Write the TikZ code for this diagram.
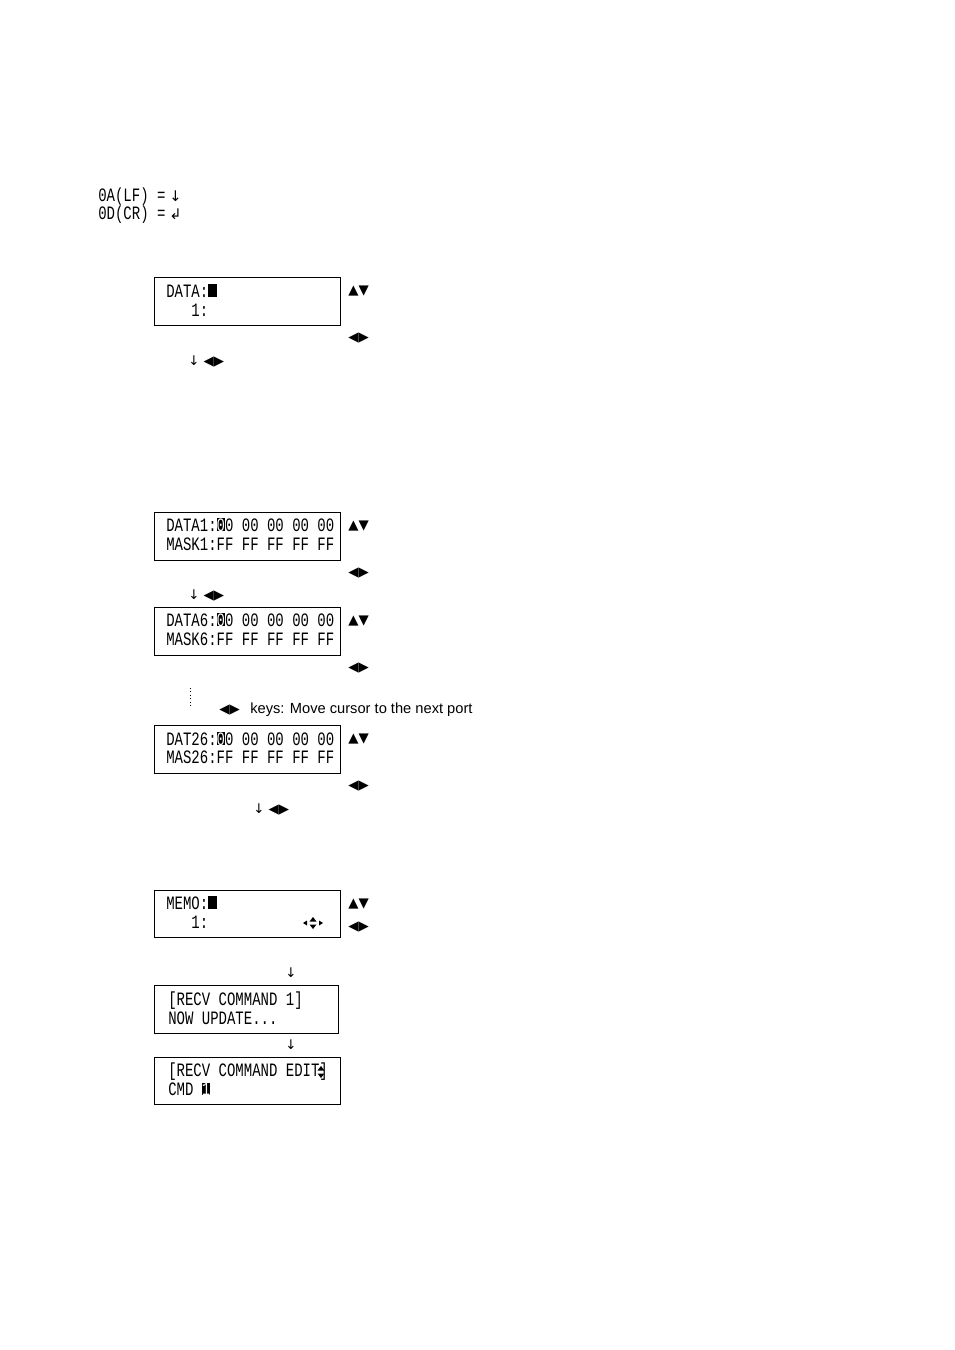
\documentclass[tikz,border=0pt]{standalone}
\usepackage{fontspec}
\usepackage{graphicx}
\setmainfont{Liberation Sans}
\newfontfamily\mono{Liberation Mono}
\newfontfamily\dv{DejaVu Sans}
\newcommand{\lcd}[1]{\scalebox{1}[1.35]{\mono\fontsize{10.5}{12}\selectfont #1}}
\newcommand{\inv}[1]{{\setlength{\fboxsep}{0pt}\colorbox{black}{\textcolor{white}{#1}}}}
\begin{document}
\begin{tikzpicture}[x=0.75pt,y=-0.75pt,
  lcdbox/.style={draw,line width=0.7pt},
  lt/.style={anchor=base west,inner sep=0pt,font=\mono},
  sym/.style={anchor=base west,inner sep=0pt,font=\dv\fontsize{10}{12}\selectfont},
  txt/.style={anchor=base west,inner sep=0pt,font=\fontsize{11}{13}\selectfont}]
\useasboundingbox (0,0) rectangle (954,1350);
% legend
\node[lt] (l1) at (98,201) {\lcd{0A(LF) = }};
\node[sym,font=\dv\fontsize{11}{13}\selectfont] (l1a) at (169,201) {↓};
\node[lt] (l2) at (98,219) {\lcd{0D(CR) = }};
\node[sym,font=\dv\fontsize{11}{13}\selectfont] (l2a) at (169,219) {↲};
% helper macro for arrows
\newcommand{\ud}[3]{\node[sym] (#1) at (#2,#3) {▲▼};}
\newcommand{\lr}[3]{\node[sym] (#1) at (#2,#3) {◀▶};}
% box1
\draw[lcdbox] (154,277) rectangle (340,325);
\node[lt] (b1a) at (166,297) {\lcd{DATA:\inv{\phantom{0}}}};
\node[lt] (b1b) at (166,316) {\lcd{\ \ \ 1:}};
\ud{u1}{348}{294}\lr{r1}{348}{341}
\node[sym] (d1) at (188,365) {↓ ◀▶};
% box2
\draw[lcdbox] (154,512) rectangle (340,560);
\node[lt] (b2a) at (166,531) {\lcd{DATA1:\inv{0}0 00 00 00 00}};
\node[lt] (b2b) at (166,550) {\lcd{MASK1:FF FF FF FF FF}};
\ud{u2}{348}{529}\lr{r2}{348}{576}
\node[sym] (d2) at (188,599) {↓ ◀▶};
% box3
\draw[lcdbox] (154,607) rectangle (340,655);
\node[lt] (b3a) at (166,626) {\lcd{DATA6:\inv{0}0 00 00 00 00}};
\node[lt] (b3b) at (166,645) {\lcd{MASK6:FF FF FF FF FF}};
\ud{u3}{348}{624}\lr{r3}{348}{671}
\draw[dotted,line width=0.6pt] (190,688) -- (190,706);
\node[sym] (k) at (219,713) {◀▶};
\node[txt] (kt) at (250,713) {keys: Move cursor to the next port};
% box4
\draw[lcdbox] (154,725) rectangle (340,773);
\node[lt] (b4a) at (166,745) {\lcd{DAT26:\inv{0}0 00 00 00 00}};
\node[lt] (b4b) at (166,763) {\lcd{MAS26:FF FF FF FF FF}};
\ud{u4}{348}{742}\lr{r4}{348}{789}
\node[sym] (d4) at (253,813) {↓ ◀▶};
% box5
\draw[lcdbox] (154,890) rectangle (340,937);
\node[lt] (b5a) at (166,909) {\lcd{MEMO:\inv{\phantom{0}}}};
\node[lt] (b5b) at (166,928) {\lcd{\ \ \ 1:}};
\fill (303,923) -- (307,920.5) -- (307,925.5) -- cycle;
\fill (323,923) -- (319,920.5) -- (319,925.5) -- cycle;
\fill (313,917) -- (309.5,921.5) -- (316.5,921.5) -- cycle;
\fill (313,929) -- (309.5,924.5) -- (316.5,924.5) -- cycle;
\ud{u5}{348}{907}\lr{r5}{348}{930}
\node[sym] (d5) at (285,977) {↓};
% box6
\draw[lcdbox] (154,985) rectangle (338,1033);
\node[lt] (b6a) at (168,1005) {\lcd{[RECV COMMAND 1]}};
\node[lt] (b6b) at (168,1024) {\lcd{NOW UPDATE...}};
\node[sym] (d6) at (285,1049) {↓};
% box7
\draw[lcdbox] (154,1057) rectangle (340,1104);
\node[lt] (b7a) at (168,1076) {\lcd{[RECV COMMAND EDIT]}};
\fill (321,1066) -- (317.5,1070.5) -- (324.5,1070.5) -- cycle;
\fill (321,1078) -- (317.5,1073.5) -- (324.5,1073.5) -- cycle;
\node[lt] (b7b) at (168,1095) {\lcd{CMD \inv{1}}};
\end{tikzpicture}
\end{document}
